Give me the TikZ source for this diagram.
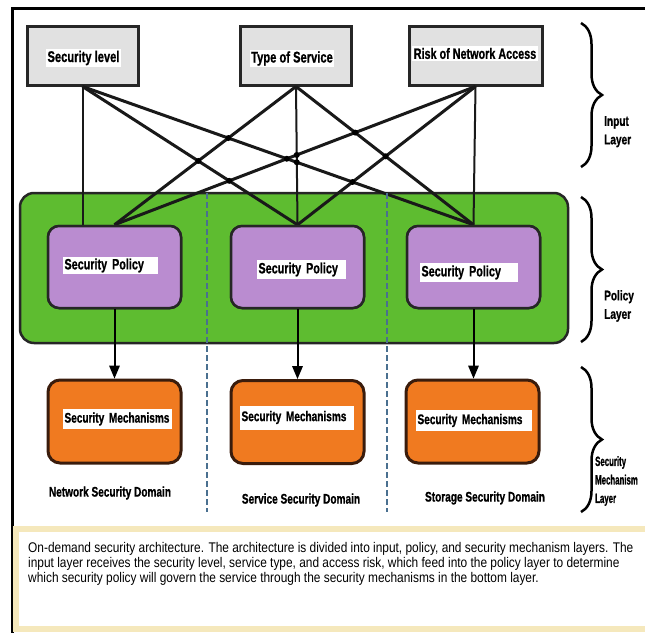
\documentclass[tikz,border=0pt]{standalone}
\usepackage{fontspec}
\newfontfamily\boxfont[FakeStretch=0.72,FakeBold=0.8]{Liberation Sans Bold}
\newfontfamily\slimfont[FakeStretch=0.58,FakeBold=0.8]{Liberation Sans Bold}
\newfontfamily\notefont[FakeStretch=0.85]{Liberation Sans}
\usetikzlibrary{arrows}
\usetikzlibrary{intersections}
\usetikzlibrary{decorations.pathreplacing}
\definecolor{inputgrey}{RGB}{225,225,225}
\definecolor{layergreen}{RGB}{94,188,48}
\definecolor{policypurple}{RGB}{186,140,208}
\definecolor{mechorange}{RGB}{240,122,32}
\definecolor{mechbrown}{RGB}{58,28,12}
\definecolor{domainblue}{RGB}{74,112,144}
\definecolor{notebeige}{RGB}{245,232,188}
\tikzstyle{inputbox} = [
  draw=black!85,
  fill=inputgrey,
  rectangle,
  line width=3pt,
  minimum width=111pt,
  minimum height=59pt,
]
\tikzstyle{policybox} = [
  draw=black!85,
  fill=policypurple,
  rectangle,
  rounded corners=11pt,
  line width=2.5pt,
  minimum width=133pt,
  minimum height=82pt,
]
\tikzstyle{mechbox} = [
  draw=mechbrown,
  fill=mechorange,
  rectangle,
  rounded corners=12pt,
  line width=3pt,
  minimum width=133pt,
  minimum height=83pt,
]
\tikzstyle{tag} = [
  fill=white,
  inner sep=1.5pt,
  align=left,
  font=\boxfont\fontsize{14}{15}\selectfont,
]
\tikzstyle{domaintag} = [
  inner sep=0pt,
  font=\boxfont\fontsize{14}{15}\selectfont,
]
\tikzstyle{layername} = [
  anchor=north west,
  inner sep=0pt,
  align=left,
  font=\boxfont\fontsize{14}{18.5}\selectfont,
]
\tikzstyle{wire} = [
  draw=black!90,
  line width=3pt,
]
\tikzstyle{flow} = [
  -triangle 45,
  line width=2pt,
]
\tikzstyle{crossing} = [
  fill=black,
]
\tikzstyle{divider} = [
  domainblue,
  line width=2pt,
  dash pattern=on 6pt off 3pt,
]
\tikzstyle{layerbrace} = [
  decorate,
  decoration={brace, amplitude=21pt},
  line width=2.5pt,
]

\begin{document}
\begin{tikzpicture}[
    x=1pt,
    y=-1pt,
  ]
  \useasboundingbox[fill=white] (0,0) rectangle (645,632);
  % frame and caption panel
  \draw[line width=3pt] (650,8) -- (12,8) -- (12,640);
  \draw[notebeige, line width=6pt] (16,528.5) rectangle (660,629);
  % policy layer background
  \node[
    draw=black!85,
    fill=layergreen,
    rounded corners=14pt,
    line width=2.5pt,
    minimum width=548pt,
    minimum height=150pt,
  ](layer) at (294,268) {};
  % input layer
  \node[inputbox](lvl) at (82.5,55.5) {};
  \node[inputbox](svc) at (296,55.5) {};
  \node[inputbox, minimum width=133pt](rsk) at (475.5,55.5) {};
  \node[tag, font=\boxfont\fontsize{15.5}{16}\selectfont](lvltag) at (83.5,58) {Security level};
  \node[tag, font=\boxfont\fontsize{15.5}{16}\selectfont](svctag) at (292,58.5) {Type of Service};
  \node[tag, font=\boxfont\fontsize{15}{16}\selectfont](rsktag) at (475,53.5) {Risk of Network Access};
  % policy layer
  \node[policybox](pola) at (114.5,267) {};
  \node[policybox](polb) at (297.5,267) {};
  \node[policybox](polc) at (473.5,267) {};
  % wires from inputs to policies
  \draw[wire, line width=2pt] (lvl.south) -- (lvl.south |- pola.north);
  \draw[wire, name path=lvlb] (lvl.south) -- (polb.north);
  \draw[wire, name path=lvlc] (lvl.south) -- (polc.north);
  \draw[wire, name path=svca] (svc.south) -- (pola.north);
  \draw[wire, line width=2pt, name path=svcb] (svc.south) -- (polb.north);
  \draw[wire, name path=svcc] (svc.south) -- (polc.north);
  \draw[wire, name path=rska] (rsk.south) -- (pola.north);
  \draw[wire, name path=rskb] (rsk.south) -- (polb.north);
  \draw[wire, line width=2pt] (rsk.south) -- (polc.north);
  \fill[crossing, name intersections={of=lvlb and svca}] (intersection-1) circle (3pt);
  \fill[crossing, name intersections={of=lvlb and rska}] (intersection-1) circle (3pt);
  \fill[crossing, name intersections={of=lvlc and svca}] (intersection-1) circle (3pt);
  \fill[crossing, name intersections={of=lvlc and rska}] (intersection-1) circle (3pt);
  \fill[crossing, name intersections={of=lvlc and svcb}] (intersection-1) circle (3pt);
  \fill[crossing, name intersections={of=rska and svcb}] (intersection-1) circle (3pt);
  \fill[crossing, name intersections={of=lvlc and rskb}] (intersection-1) circle (3pt);
  \fill[crossing, name intersections={of=svcc and rska}] (intersection-1) circle (3pt);
  \fill[crossing, name intersections={of=svcc and rskb}] (intersection-1) circle (3pt);
  % redraw policy boxes over the wire ends
  \node[policybox](pola) at (114.5,267) {};
  \node[policybox](polb) at (297.5,267) {};
  \node[policybox](polc) at (473.5,267) {};
  \node[tag, font=\boxfont\fontsize{15}{16}\selectfont, text width=92pt, minimum height=15pt](polatag) at (110.5,265.5) {Security Policy};
  \node[tag, font=\boxfont\fontsize{15}{16}\selectfont, text width=86pt, minimum height=19pt](polbtag) at (301.5,269.5) {Security Policy};
  \node[tag, font=\boxfont\fontsize{15}{16}\selectfont, text width=95pt, minimum height=19pt](polctag) at (469,272.5) {Security Policy};
  % security mechanism layer
  \node[mechbox](mecha) at (114.5,421.5) {};
  \node[mechbox](mechb) at (297.5,422) {};
  \node[mechbox](mechc) at (472.5,421.5) {};
  \node[tag, text width=106pt, minimum height=20pt](mechatag) at (117.5,419) {Security Mechanisms};
  \node[tag, text width=111pt, minimum height=24pt](mechbtag) at (297,417.5) {Security Mechanisms};
  \node[tag, text width=113pt, minimum height=21pt](mechctag) at (474,420.5) {Security Mechanisms};
  \draw[flow] (pola.south) -- (mecha.north);
  \draw[flow] (polb.south) -- (mechb.north);
  \draw[flow] (polc.south) -- (polc.south |- mechc.north);
  % domains
  \draw[divider] (207,193) -- (207,512);
  \draw[divider] (387,193) -- (387,512);
  \node[domaintag](netdom) at (110,493) {Network Security Domain};
  \node[domaintag](svcdom) at (301,500) {Service Security Domain};
  \node[domaintag](stodom) at (485,498) {Storage Security Domain};
  % layer braces
  \draw[layerbrace] (581,23) -- (581,167);
  \draw[layerbrace] (581,197) -- (581,342);
  \draw[layerbrace] (581,367) -- (581,512);
  \node[layername](inlab) at (604,116) {Input\\Layer};
  \node[layername](pollab) at (604,290) {Policy\\Layer};
  \node[layername, font=\slimfont\fontsize{13.5}{18.5}\selectfont](mechlab) at (595,456) {Security\\Mechanism\\Layer};
  % caption
  \node[
    anchor=north west,
    inner sep=0pt,
    align=left,
    font=\notefont\fontsize{14}{15}\selectfont,
  ](caption) at (28,542) {On-demand security architecture. The architecture is divided into input, policy, and security mechanism layers. The\\
    input layer receives the security level, service type, and access risk, which feed into the policy layer to determine\\
    which security policy will govern the service through the security mechanisms in the bottom layer.};
\end{tikzpicture}
\end{document}
